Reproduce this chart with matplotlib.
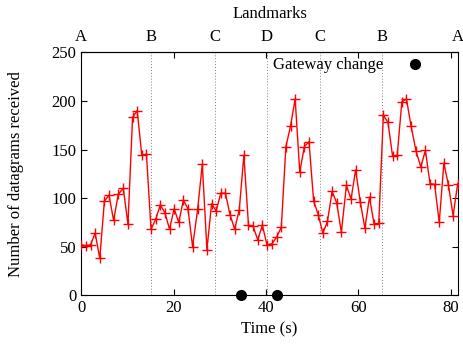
import matplotlib
matplotlib.use("Agg")
import matplotlib.pyplot as plt
from matplotlib.lines import Line2D

plt.rcParams['font.family'] = ['Liberation Serif', 'DejaVu Serif']
plt.rcParams['font.size'] = 12

# time of each sample (s) and datagrams received
times = [0.0, 1.0, 2.0, 3.0, 4.0, 5.0, 6.0, 7.0, 8.0, 9.1,
         10.1, 11.1, 12.1, 13.1, 14.1, 15.1, 16.1, 17.1, 18.1, 19.1,
         20.1, 21.1, 22.1, 23.1, 24.1, 25.2, 26.2, 27.2, 28.2, 29.2,
         30.2, 31.2, 32.2, 33.2, 34.2, 35.2, 36.2, 37.2, 38.2, 39.2,
         40.2, 41.3, 42.3, 43.3, 44.3, 45.3, 46.3, 47.3, 48.3, 49.3,
         50.3, 51.3, 52.3, 53.3, 54.3, 55.3, 56.3, 57.4, 58.4, 59.4,
         60.4, 61.4, 62.4, 63.4, 64.4, 65.4, 66.4, 67.4, 68.4, 69.4,
         70.4, 71.4, 72.5, 73.5, 74.5, 75.5, 76.5, 77.5, 78.5, 79.5,
         80.5, 81.5]
datagrams = [52, 51, 52, 64, 38, 97, 103, 77, 104, 110,
             73, 183, 190, 144, 145, 68, 78, 93, 85, 68,
             89, 75, 98, 89, 50, 89, 135, 47, 94, 87,
             105, 105, 83, 68, 88, 144, 72, 71, 57, 72,
             52, 53, 60, 70, 153, 174, 202, 127, 153, 158,
             97, 83, 64, 76, 107, 95, 65, 113, 99, 129,
             96, 69, 101, 73, 74, 185, 178, 143, 144, 199,
             202, 174, 148, 132, 149, 115, 114, 75, 136, 113,
             82, 115]

landmark_pos = [0.0, 15.1, 29.0, 40.2, 51.7, 65.2, 81.5]
landmark_names = ['A', 'B', 'C', 'D', 'C', 'B', 'A']
gateway_times = [34.5, 42.4]

fig = plt.figure(figsize=(4.63, 3.49), dpi=100)
ax = fig.add_axes([0.1756, 0.1539, 0.8130, 0.6962])

for x in landmark_pos[1:-1]:
    ax.axvline(x, color='gray', lw=0.7, ls=(0, (1, 2)), zorder=1)

ax.plot(times, datagrams, '-+', color='#ff0000', lw=1, ms=6.5, mew=1, zorder=3)
ax.plot(gateway_times, [0] * len(gateway_times), 'o', color='black', ms=7,
        clip_on=False, zorder=5)

ax.set_xlim(0, 81.5)
ax.set_ylim(0, 250)
ax.set_xticks([0, 20, 40, 60, 80])
ax.set_yticks([0, 50, 100, 150, 200, 250])
ax.tick_params(direction='in', top=True, right=True, length=4, width=0.8)
ax.set_xlabel('Time (s)', labelpad=4)
ax.set_ylabel('Number of datagrams received', labelpad=20)

top = ax.secondary_xaxis('top')
top.set_xticks(landmark_pos)
top.set_xticklabels(landmark_names)
top.tick_params(length=0, pad=5)
top.set_xlabel('Landmarks', labelpad=8)

handle = Line2D([], [], marker='o', color='black', ls='none', ms=7)
ax.legend([handle], ['Gateway change'], loc='upper right', markerfirst=False,
          frameon=False, handlelength=1.5, handletextpad=1.1,
          bbox_to_anchor=(0.945, 1.02), borderaxespad=0.2)

fig.savefig('out.png', dpi=100)
